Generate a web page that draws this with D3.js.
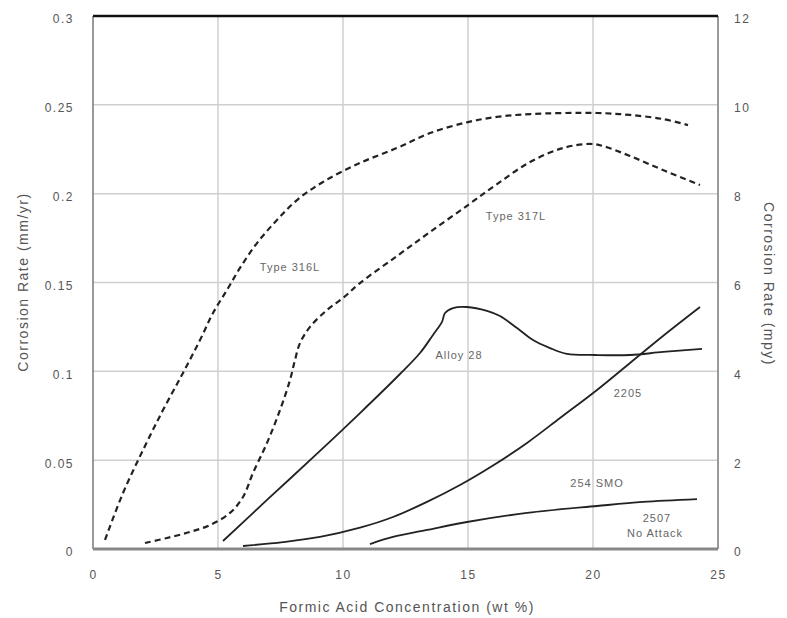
<!DOCTYPE html>
<html>
<head>
<meta charset="utf-8">
<script src="https://cdn.jsdelivr.net/npm/d3@7"></script>
<style>
  body { margin: 0; background: #fff; }
  svg { font-family: "Liberation Sans", Arial, sans-serif; }
  .tick text { fill: #555; font-size: 12px; letter-spacing: 1.5px; }
  .lbl { fill: #666; font-size: 11px; letter-spacing: 1px; }
  .title { fill: #555; font-size: 14px; letter-spacing: 1.5px; }
</style>
</head>
<body>
<svg id="chart" width="787" height="618"></svg>
<script>
// formic acid wt % vs corrosion rate mm/yr
const type316L = [
  [0.48, 0.0051], [1.2, 0.0315], [2.0, 0.0557], [2.8, 0.0782], [3.6, 0.0991],
  [4.28, 0.1176], [4.8, 0.1328], [5.36, 0.1458], [5.88, 0.1582], [6.56, 0.1722],
  [7.36, 0.1852], [8.16, 0.1964], [9.2, 0.2066], [10.68, 0.2173], [12.16, 0.2257],
  [13.48, 0.2341], [15.0, 0.2403], [16.16, 0.2432], [17.48, 0.2448], [20.16, 0.2454],
  [21.48, 0.2443], [22.8, 0.242], [23.8, 0.2386]
];
const type317L = [
  [2.08, 0.0034], [2.96, 0.0062], [3.88, 0.0096], [4.68, 0.0135], [5.48, 0.0203],
  [6.0, 0.0293], [6.4, 0.0428], [6.96, 0.0597], [7.48, 0.0782], [7.88, 0.0951],
  [8.08, 0.1064], [8.28, 0.1159], [8.68, 0.125], [9.36, 0.1345], [10.0, 0.1413],
  [10.68, 0.1497], [12.16, 0.1649], [13.48, 0.1784], [15.0, 0.1936], [16.16, 0.2054],
  [17.48, 0.2178], [18.8, 0.2257], [19.88, 0.228], [20.4, 0.2268], [21.48, 0.2212],
  [22.8, 0.2133], [24.28, 0.2049]
];
const alloy28 = [
  [5.2, 0.0045], [6.96, 0.0276], [9.08, 0.0552], [10.68, 0.0765], [12.28, 0.0985],
  [13.08, 0.1103], [13.6, 0.1205], [13.96, 0.1278], [14.08, 0.1328], [14.4, 0.1356],
  [14.96, 0.1362], [15.76, 0.134], [16.28, 0.1311], [16.96, 0.1244], [17.6, 0.1176],
  [18.28, 0.1131], [18.96, 0.1098], [20.08, 0.1092], [21.48, 0.1092], [22.8, 0.1109],
  [24.36, 0.1126]
];
const duplex2205 = [
  [6.0, 0.0017], [7.6, 0.0039], [9.08, 0.0068], [10.68, 0.012], [12.0, 0.018],
  [13.36, 0.0265], [14.68, 0.036], [16.0, 0.047], [17.36, 0.0597], [18.68, 0.0737],
  [20.16, 0.0895], [21.48, 0.1047], [22.8, 0.1199], [24.28, 0.1362]
];
const smo254 = [
  [11.08, 0.0028], [12.0, 0.0068], [13.36, 0.0107], [14.96, 0.0152],
  [17.36, 0.0203], [20.16, 0.0242], [22.0, 0.0265], [24.16, 0.0281]
];

const xTicks = [0, 5, 10, 15, 20, 25];
const yTicks = [0, 0.05, 0.1, 0.15, 0.2, 0.25, 0.3];
const y2Ticks = [0, 2, 4, 6, 8, 10, 12];

const curveLabels = [
  { text: "Type 316L", x: 7.88, y: 0.1587 },
  { text: "Type 317L", x: 16.92, y: 0.1874 },
  { text: "Alloy 28", x: 14.64, y: 0.1092 },
  { text: "2205", x: 21.4, y: 0.0878 },
  { text: "254 SMO", x: 20.16, y: 0.0371 },
  { text: "2507", x: 22.56, y: 0.0174 },
  { text: "No Attack", x: 22.48, y: 0.009 }
];

const plotLeft = 93, plotRight = 718, plotTop = 16, plotBottom = 549;

const x = d3.scaleLinear().domain([0, 25]).range([plotLeft, plotRight]);
const y = d3.scaleLinear().domain([0, 0.3]).range([plotBottom, plotTop]);
const y2 = d3.scaleLinear().domain([0, 12]).range([plotBottom, plotTop]);

const svg = d3.select("#chart");

// grid
const grid = svg.append("g").attr("stroke", "#cfcfcf").attr("stroke-width", 1.5);
grid.selectAll(".gx").data(xTicks.slice(1, -1)).enter().append("line")
  .attr("x1", d => x(d)).attr("x2", d => x(d))
  .attr("y1", plotTop).attr("y2", plotBottom);
grid.selectAll(".gy").data(yTicks.slice(1, -1)).enter().append("line")
  .attr("x1", plotLeft).attr("x2", plotRight)
  .attr("y1", d => y(d)).attr("y2", d => y(d));

// frame
svg.append("line").attr("x1", plotLeft).attr("x2", plotLeft).attr("y1", plotTop).attr("y2", plotBottom)
  .attr("stroke", "#777").attr("stroke-width", 1.5);
svg.append("line").attr("x1", plotRight).attr("x2", plotRight).attr("y1", plotTop).attr("y2", plotBottom)
  .attr("stroke", "#999").attr("stroke-width", 2);
svg.append("line").attr("x1", plotLeft).attr("x2", plotRight).attr("y1", plotBottom).attr("y2", plotBottom)
  .attr("stroke", "#888").attr("stroke-width", 3);
svg.append("line").attr("x1", plotLeft).attr("x2", plotRight).attr("y1", plotTop).attr("y2", plotTop)
  .attr("stroke", "#111").attr("stroke-width", 2.5);

// axes
const xAxis = d3.axisBottom(x).tickValues(xTicks).tickSize(0).tickPadding(21);
const yAxis = d3.axisLeft(y).tickValues(yTicks).tickSize(0).tickPadding(19)
  .tickFormat(d => d === 0 ? "0" : String(+d.toFixed(2)));
const y2Axis = d3.axisRight(y2).tickValues(y2Ticks).tickSize(0).tickPadding(16);

svg.append("g").attr("transform", "translate(0," + plotBottom + ")").call(xAxis)
  .call(g => g.select(".domain").remove());
svg.append("g").attr("transform", "translate(" + plotLeft + ",0)").call(yAxis)
  .call(g => g.select(".domain").remove())
  .call(g => g.selectAll(".tick text").attr("dy", "0.58em"));
svg.append("g").attr("transform", "translate(" + plotRight + ",0)").call(y2Axis)
  .call(g => g.select(".domain").remove())
  .call(g => g.selectAll(".tick text").attr("dy", "0.58em"));

svg.append("text").attr("class", "title")
  .attr("x", 407).attr("y", 612)
  .attr("text-anchor", "middle")
  .text("Formic Acid Concentration (wt %)");
svg.append("text").attr("class", "title")
  .attr("transform", "translate(28,282) rotate(-90)")
  .attr("text-anchor", "middle")
  .text("Corrosion Rate (mm/yr)");
svg.append("text").attr("class", "title")
  .attr("transform", "translate(764,284) rotate(90)")
  .attr("text-anchor", "middle")
  .text("Corrosion Rate (mpy)");

// curves
const line = d3.line()
  .x(d => x(d[0]))
  .y(d => y(d[1]))
  .curve(d3.curveCatmullRom.alpha(0.5));

const dashed = [type316L, type317L];
const solid = [alloy28, duplex2205, smo254];

svg.selectAll(".dashed").data(dashed).enter().append("path")
  .attr("class", "dashed")
  .attr("d", line)
  .attr("fill", "none")
  .attr("stroke", "#222")
  .attr("stroke-width", 2.2)
  .attr("stroke-dasharray", "6,4");

svg.selectAll(".solid").data(solid).enter().append("path")
  .attr("class", "solid")
  .attr("d", line)
  .attr("fill", "none")
  .attr("stroke", "#222")
  .attr("stroke-width", 1.8);

svg.selectAll(".lbl").data(curveLabels).enter().append("text")
  .attr("class", "lbl")
  .attr("x", d => x(d.x))
  .attr("y", d => y(d.y))
  .attr("dy", "0.35em")
  .attr("text-anchor", "middle")
  .text(d => d.text);
</script>
</body>
</html>
